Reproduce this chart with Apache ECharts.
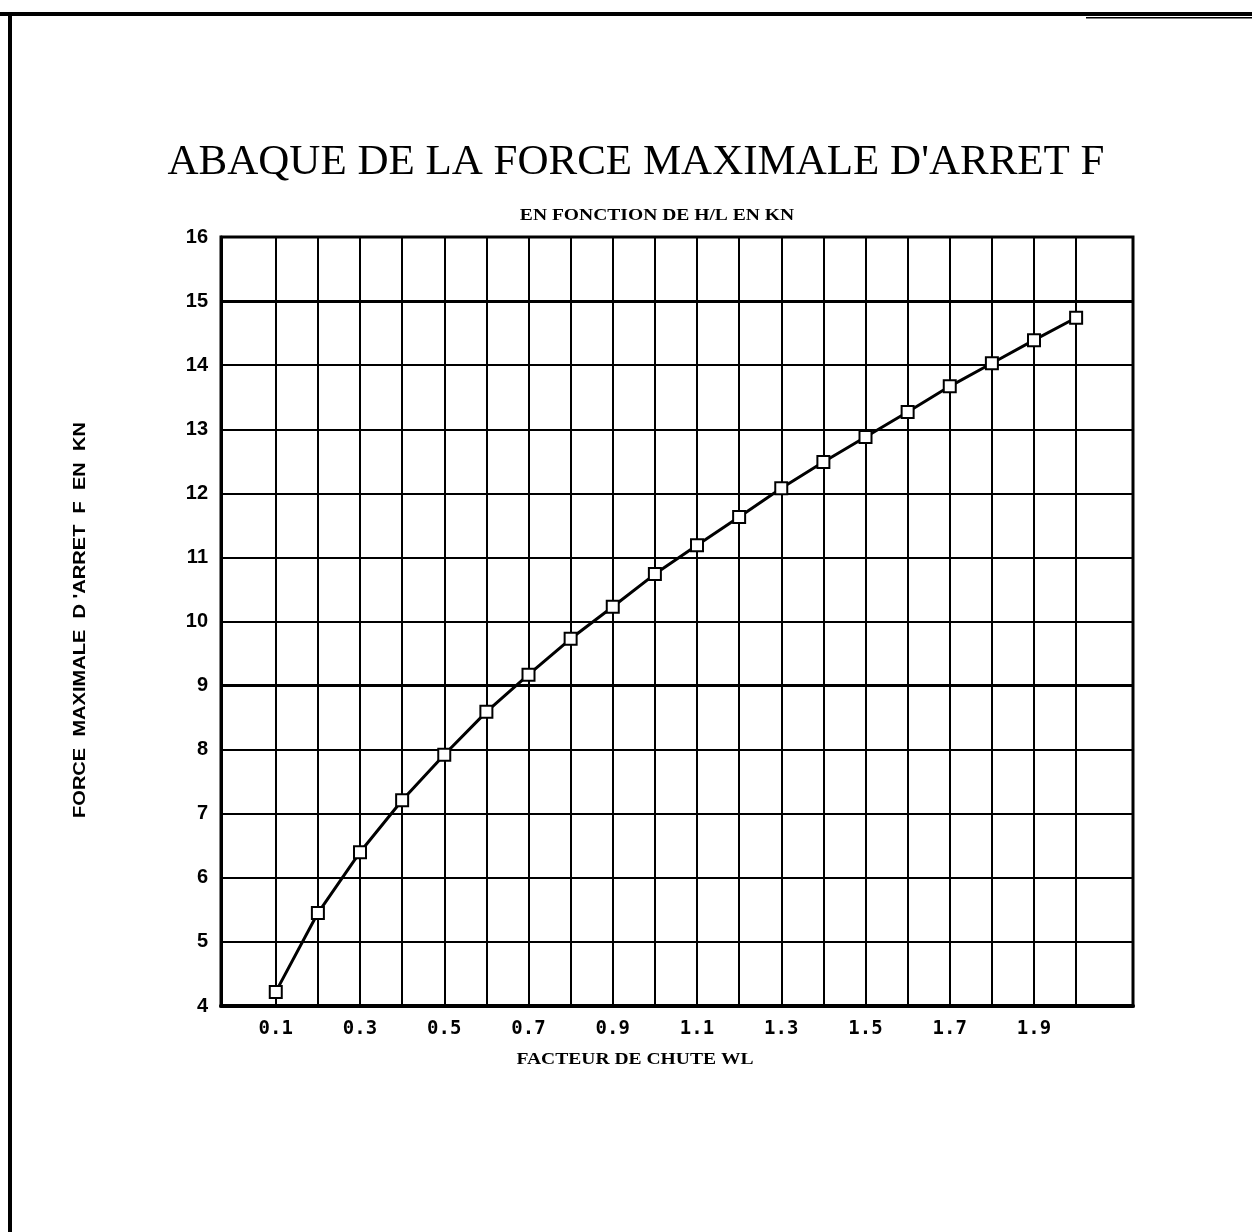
<!DOCTYPE html>
<html>
<head>
<meta charset="utf-8">
<script src="https://cdn.jsdelivr.net/npm/echarts@6/dist/echarts.min.js"></script>
<style>html,body{margin:0;padding:0;background:#fff;}#c{width:1252px;height:1232px;}</style>
</head>
<body>
<div id="c"></div>
<script>
const xValues = [0.1,0.2,0.3,0.4,0.5,0.6,0.7,0.8,0.9,1.0,1.1,1.2,1.3,1.4,1.5,1.6,1.7,1.8,1.9,2.0];
const forceValues = [4.22,5.45,6.40,7.21,7.92,8.59,9.17,9.73,10.23,10.74,11.19,11.63,12.08,12.49,12.88,13.27,13.67,14.03,14.39,14.74];
const xGridValues = [0.1,0.2,0.3,0.4,0.5,0.6,0.7,0.8,0.9,1.0,1.1,1.2,1.3,1.4,1.5,1.6,1.7,1.8,1.9,2.0];
const xTickLabels = [0.1,0.3,0.5,0.7,0.9,1.1,1.3,1.5,1.7,1.9];
const boldYLines = [9,15];
const titleText = "ABAQUE DE LA FORCE MAXIMALE D'ARRET F";
const subtitleText = "EN FONCTION DE H/L EN KN";
const xTitle = "FACTEUR DE CHUTE WL";
const yTitle = "FORCE  MAXIMALE  D 'ARRET  F  EN  KN";

const chart = echarts.init(document.getElementById('c'), null, {renderer:'canvas'});
const option = {
  animation: false,
  backgroundColor: '#fff',
  grid: {left: 221, right: 119, top: 237, bottom: 226, show: true, borderColor: '#000', borderWidth: 3, containLabel: false},
  xAxis: {
    type: 'value', min: -0.03, max: 2.135,
    splitLine: {show: false},
    axisTick: {show: false},
    axisLine: {onZero: false, lineStyle: {color: '#000', width: 4}},
    axisLabel: {
      customValues: xTickLabels,
      formatter: v => v.toFixed(1),
      color: '#000', fontFamily: 'DejaVu Sans Mono', fontWeight: 'bold', fontSize: 19, margin: 14
    }
  },
  yAxis: {
    type: 'value', min: 4, max: 16, interval: 1,
    axisLine: {show: true, onZero: false, lineStyle: {color: '#000', width: 3}},
    axisTick: {show: false},
    splitLine: {show: true, lineStyle: {color: '#000', width: 2}},
    axisLabel: {color: '#000', fontFamily: 'Liberation Sans', fontWeight: 'bold', fontSize: 20, margin: 13}
  },
  series: [{
    type: 'line',
    data: xValues.map((x, i) => [x, forceValues[i]]),
    symbol: 'rect', symbolSize: 12, showAllSymbol: true,
    itemStyle: {color: '#fff', borderColor: '#000', borderWidth: 2},
    lineStyle: {color: '#000', width: 3},
    z: 5,
    markLine: {
      silent: true, symbol: 'none', animation: false,
      label: {show: false},
      lineStyle: {color: '#000', width: 2, type: 'solid'},
      data: xGridValues.map(v => ({xAxis: v})).concat(
        boldYLines.map(v => ({yAxis: v, lineStyle: {color: '#000', width: 3, type: 'solid'}})))
    }
  }],
  graphic: [
    {type: 'rect', shape: {x: 0, y: 12, width: 1252, height: 4}, style: {fill: '#000'}, silent: true},
    {type: 'rect', shape: {x: 1086, y: 17, width: 166, height: 1.5}, style: {fill: '#000'}, silent: true},
    {type: 'rect', shape: {x: 8, y: 12, width: 4, height: 1220}, style: {fill: '#000'}, silent: true},
    {type: 'text', x: 636, y: 163, style: {text: titleText, textAlign: 'center', textVerticalAlign: 'middle', font: 'normal 43px "Liberation Serif"', fill: '#000'}},
    {type: 'text', x: 657, y: 216, scaleX: 1.15, style: {text: subtitleText, textAlign: 'center', textVerticalAlign: 'middle', font: 'bold 17px "Liberation Serif"', fill: '#000'}},
    {type: 'text', x: 635, y: 1060, scaleX: 1.15, style: {text: xTitle, textAlign: 'center', textVerticalAlign: 'middle', font: 'bold 17px "Liberation Serif"', fill: '#000'}},
    {type: 'text', x: 80, y: 620, rotation: Math.PI / 2, scaleX: 1.18, style: {text: yTitle, textAlign: 'center', textVerticalAlign: 'middle', font: 'bold 17px "Liberation Sans"', fill: '#000'}}
  ]
};
chart.setOption(option);
</script>
</body>
</html>
